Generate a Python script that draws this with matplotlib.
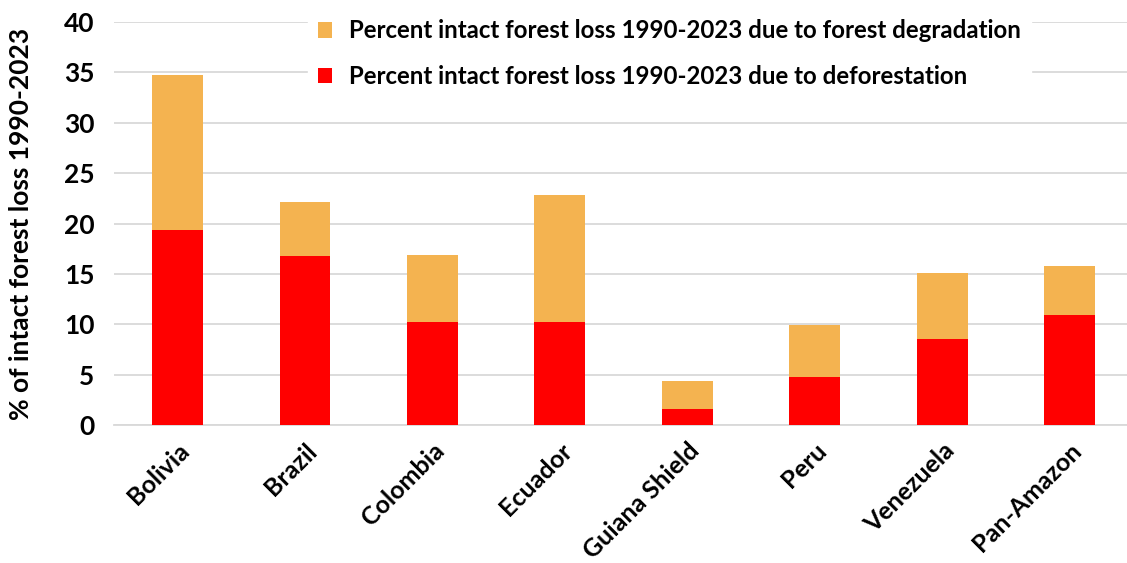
import matplotlib
matplotlib.use('Agg')
import matplotlib.pyplot as plt
import numpy as np

plt.rcParams['font.family'] = ['Lato', 'DejaVu Sans']
plt.rcParams['font.weight'] = 'bold'
plt.rcParams['axes.labelweight'] = 'bold'

regions = ['Bolivia', 'Brazil', 'Colombia', 'Ecuador', 'Guiana Shield', 'Peru', 'Venezuela', 'Pan-Amazon']
deforestation = [19.35, 16.8, 10.2, 10.2, 1.6, 4.8, 8.5, 10.9]
total_loss = [34.7, 22.1, 16.9, 22.8, 4.4, 9.9, 15.1, 15.8]
degradation = [t - d for t, d in zip(total_loss, deforestation)]

fig = plt.figure(figsize=(11.27, 5.63), dpi=100)
ax = fig.add_axes([0.101, 0.245, 0.899, 0.716])

x = np.arange(len(regions))
ax.bar(x, deforestation, width=0.4, color='#FF0000', zorder=3,
       label='Percent intact forest loss 1990-2023 due to deforestation')
ax.bar(x, degradation, width=0.4, bottom=deforestation, color='#F4B350', zorder=3,
       label='Percent intact forest loss 1990-2023 due to forest degradation')

ax.set_ylim(0, 40)
ax.set_yticks(range(0, 41, 5))
ax.set_xlim(-0.5, 7.45)
ax.set_xticks(x)
ax.set_xticklabels(regions, rotation=45, ha='right', rotation_mode='anchor', fontsize=18)
ax.tick_params(axis='y', labelsize=19, length=0, pad=14)
ax.tick_params(axis='x', length=0, pad=10)
ax.grid(axis='y', color='#d9d9d9', linewidth=1.3, zorder=0)
for s in ['top', 'right', 'left']:
    ax.spines[s].set_visible(False)
ax.spines['bottom'].set_color('#d9d9d9')
ax.spines['bottom'].set_linewidth(1.3)
ax.set_ylabel('% of intact forest loss 1990-2023', fontsize=19, labelpad=22)

handles, labels = ax.get_legend_handles_labels()
leg = ax.legend(handles[::-1], labels[::-1], loc='upper left', bbox_to_anchor=(0.18, 1.06),
                frameon=True, fancybox=False, edgecolor='white', facecolor='white', framealpha=1,
                fontsize=17.3, handlelength=0.6, handleheight=0.6, labelspacing=0.95,
                handletextpad=0.7, borderpad=0.4)

fig.savefig('out.png', dpi=100)
